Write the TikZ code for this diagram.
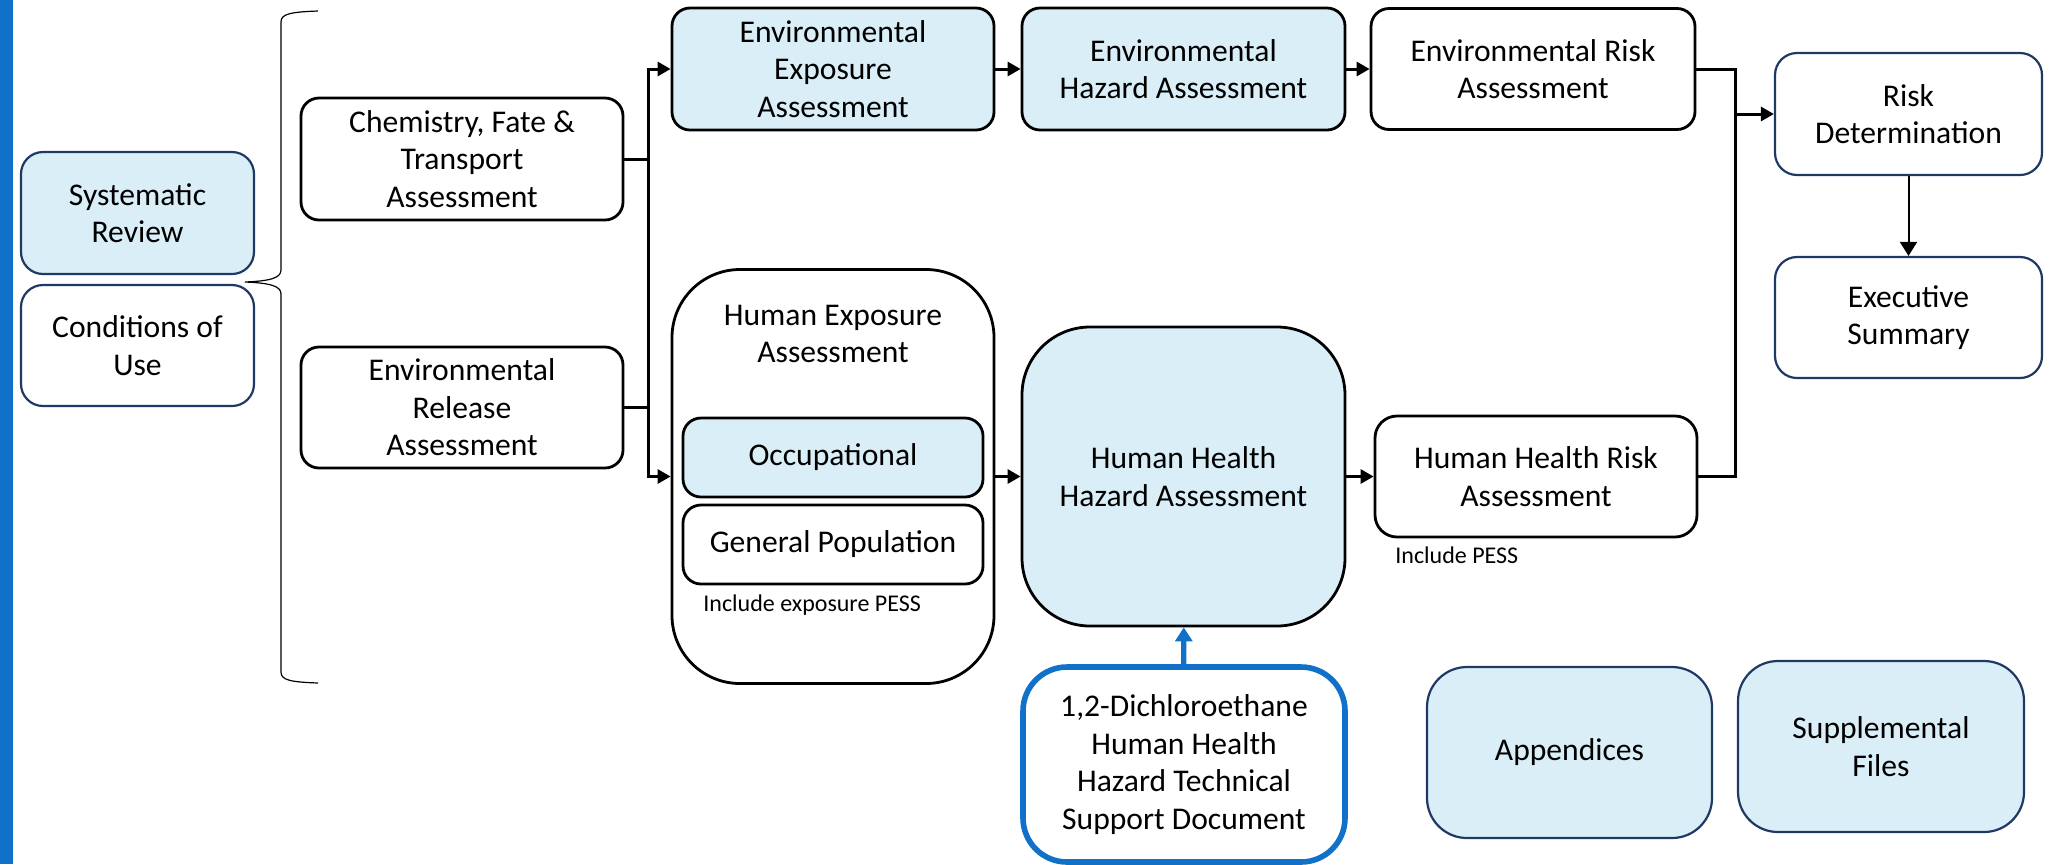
\documentclass[tikz,border=0pt]{standalone}
\usepackage{fontspec}
\setmainfont{Carlito}
\usetikzlibrary{arrows.meta}
\definecolor{paleblue}{HTML}{DAEEF7}
\definecolor{navy}{HTML}{1F3864}
\definecolor{docblue}{HTML}{1170C8}
\newcommand{\boxfont}{\fontsize{15.8}{18.75}\selectfont}
\newcommand{\notefont}{\fontsize{12}{14}\selectfont}
\tikzset{
  stage/.style={draw, line width=1.4pt, rounded corners=9pt, fill=white, align=center,
    inner sep=0pt, minimum width=161pt, minimum height=61pt, font=\boxfont},
  tinted/.style={fill=paleblue},
  navyline/.style={draw=navy, line width=1.1pt, rounded corners=11pt},
  caption/.style={align=center, inner sep=0pt, font=\boxfont},
  note/.style={anchor=west, inner sep=0pt, font=\notefont},
  link/.style={line width=1.5pt},
}
\begin{document}
\begin{tikzpicture}[x=0.5pt, y=-0.5pt, >={Triangle[length=6.5pt,width=7pt]}]
\useasboundingbox (0,0) rectangle (2050,864);
\fill[docblue] (0,0) rectangle (13,864);

\node[stage, tinted, navyline, minimum width=116.5pt] (sysrev) at (137.5,213) {Systematic\\Review};
\node[stage, navyline, minimum width=116.5pt, minimum height=60.5pt] (conduse) at (137.5,345.5) {Conditions of\\Use};
\draw[line width=0.6pt] (318,11) .. controls (290,12) and (281,14) .. (281,22) -- (281,270)
  .. controls (281,278) and (270,281) .. (245,282) .. controls (270,283) and (281,286) .. (281,294)
  -- (281,672) .. controls (281,680) and (290,682) .. (318,683);

\node[stage] (chem) at (462,159) {Chemistry, Fate \&\\Transport\\Assessment};
\node[stage, minimum height=60.5pt] (envrel) at (462,407.5) {Environmental\\Release\\Assessment};

\node[stage, tinted] (envexp) at (833,69) {Environmental\\Exposure\\Assessment};
\node[stage, tinted, minimum width=161.5pt] (envhaz) at (1183.5,69) {Environmental\\Hazard Assessment};
\node[stage, minimum width=162pt, minimum height=60.5pt] (envrisk) at (1533,69) {Environmental Risk\\Assessment};

\node[stage, rounded corners=34pt, minimum height=207pt] (humexp) at (833,476.5) {};
\node[caption] (humexptitle) at (833,334) {Human Exposure\\Assessment};
\node[stage, tinted, minimum width=150pt, minimum height=39.5pt] (occ) at (833,457.5) {Occupational};
\node[stage, minimum width=150pt, minimum height=39.5pt] (genpop) at (833,544.5) {General Population};
\node[note] (incexp) at (703,605) {Include exposure PESS};

\node[stage, tinted, rounded corners=34pt, minimum width=161.5pt, minimum height=149.5pt] (hhhaz) at (1183.5,476.5) {Human Health\\Hazard Assessment};
\node[stage, draw=docblue, line width=2.8pt, rounded corners=22pt, minimum height=97.5pt] (tsd) at (1184,764.5) {1,2-Dichloroethane\\Human Health\\Hazard Technical\\Support Document};

\node[stage, rounded corners=11pt, minimum height=60.5pt] (hhrisk) at (1536,476.5) {Human Health Risk\\Assessment};
\node[note] (incpess) at (1395,555) {Include PESS};

\node[stage, navyline, minimum width=133.5pt] (riskdet) at (1908.5,114) {Risk\\Determination};
\node[stage, navyline, minimum width=133.5pt, minimum height=60.5pt] (execsum) at (1908.5,317.5) {Executive\\Summary};

\node[stage, tinted, navyline, rounded corners=20pt, minimum width=142.5pt, minimum height=85.5pt] (append) at (1569.5,752.5) {Appendices};
\node[stage, tinted, navyline, rounded corners=20pt, minimum width=143pt, minimum height=85.5pt] (suppl) at (1881,746.5) {Supplemental\\Files};

\draw[link,->] (chem.east) -- ++(24,0) |- (humexp.west);
\draw[link,->] (envrel.east) -- ++(24,0) |- (envexp.west);
\draw[link,->] (envexp) -- (envhaz);
\draw[link,->] (envhaz) -- (envrisk);
\draw[link,->] (humexp) -- (hhhaz);
\draw[link,->] (hhhaz) -- (hhrisk);
\coordinate (merge) at (1735,114);
\draw[link] (envrisk.east) -| (merge) |- (hhrisk.east);
\draw[link,->] (merge) -- (riskdet.west);
\draw[line width=1pt, ->, >={Triangle[length=7pt,width=8.5pt]}] (riskdet) -- (execsum);
\draw[line width=2.6pt, docblue, ->, >={Triangle[length=7pt,width=8.5pt]}] (tsd) -- (hhhaz);
\end{tikzpicture}
\end{document}
